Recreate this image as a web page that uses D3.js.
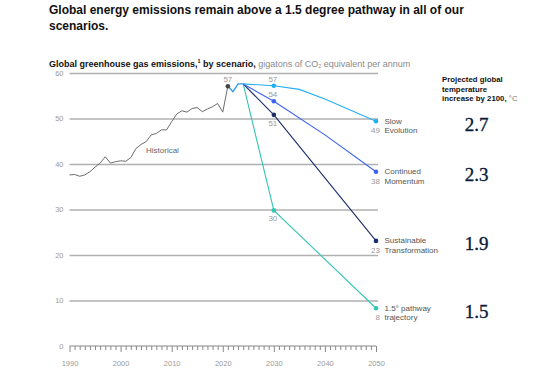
<!DOCTYPE html>
<html>
<head>
<meta charset="utf-8">
<script src="https://cdn.jsdelivr.net/npm/d3@7"></script>
<style>
  body { margin: 0; background: #fff; }
  svg { font-family: "Liberation Sans", Arial, sans-serif; display: block; }
</style>
</head>
<body>
<div id="chart"></div>
<script>
(function() {
  // historical emissions, Gt CO2e
  var histYears = [1990, 1991, 1992, 1993, 1994, 1995, 1996, 1997, 1998, 1999,
                   2000, 2001, 2002, 2003, 2004, 2005, 2006, 2007, 2008, 2009,
                   2010, 2011, 2012, 2013, 2014, 2015, 2016, 2017, 2018, 2019,
                   2020, 2021];
  var histValues = [37.6, 37.7, 37.3, 37.6, 38.3, 39.3, 40.2, 41.6, 40.2, 40.5,
                    40.7, 40.6, 41.4, 43.4, 44.3, 44.9, 46.4, 46.7, 47.5, 47.5,
                    49.3, 51.0, 51.7, 51.4, 52.2, 52.4, 51.5, 52.1, 52.6, 53.3,
                    51.4, 57.1];

  // shared short-term projection before the scenarios split
  var bridgeYears = [2021, 2022, 2023, 2024];
  var bridgeValues = [57.1, 55.9, 57.6, 57.6];

  var scenarioNames = [["Slow", "Evolution"], ["Continued", "Momentum"],
                       ["Sustainable", "Transformation"], ["1.5° pathway", "trajectory"]];
  var slowYears = [2024, 2030, 2035, 2040, 2050];
  var slowValues = [57.6, 57.2, 56.4, 54.3, 49.4];
  var momentumYears = [2024, 2030, 2040, 2050];
  var momentumValues = [57.6, 53.8, 46.4, 38.3];
  var sustainableYears = [2024, 2030, 2050];
  var sustainableValues = [57.6, 50.8, 23.1];
  var pathwayYears = [2024, 2030, 2050];
  var pathwayValues = [57.6, 29.8, 8.3];

  var labels2030 = ["57", "54", "51", "30"];
  var labels2050 = ["49", "38", "23", "8"];
  var temperatures = ["2.7", "2.3", "1.9", "1.5"];
  var yTicks = [0, 10, 20, 30, 40, 50, 60];
  var xTicks = [1990, 2000, 2010, 2020, 2030, 2040, 2050];

  var colors = ["#22b0f2", "#3b62f2", "#1b2d6b", "#34c6b4"];

  var width = 554, height = 375;

  var svg = d3.select("#chart").append("svg")
      .attr("width", width)
      .attr("height", height);

  var x = d3.scaleLinear().domain([1990, 2050]).range([69.5, 376]);
  var y = d3.scaleLinear().domain([0, 60]).range([346, 73]);

  // titles
  var title = svg.append("text")
      .attr("x", 49)
      .attr("y", 14)
      .style("font-size", "12px")
      .style("font-weight", "bold")
      .style("fill", "#111");
  title.append("tspan").attr("x", 49).text("Global energy emissions remain above a 1.5 degree pathway in all of our");
  title.append("tspan").attr("x", 49).attr("y", 30).text("scenarios.");

  var sub = svg.append("text")
      .attr("x", 49)
      .attr("y", 66.5)
      .style("font-size", "9px")
      .style("fill", "#111");
  sub.append("tspan").style("font-weight", "bold").text("Global greenhouse gas emissions,");
  sub.append("tspan").style("font-weight", "bold").style("font-size", "5.5px").attr("dy", -3.5).text("1");
  sub.append("tspan").style("font-weight", "bold").attr("dy", 3.5).text(" by scenario,");
  sub.append("tspan").style("fill", "#8a8a8a").text(" gigatons of CO");
  sub.append("tspan").style("fill", "#8a8a8a").style("font-size", "5.5px").attr("dy", 1.5).text("2");
  sub.append("tspan").style("fill", "#8a8a8a").attr("dy", -1.5).text(" equivalent per annum");

  // y axis with gridlines
  var yAxis = d3.axisLeft(y)
      .tickValues(yTicks)
      .tickSize(-308.5)
      .tickPadding(6);

  var yg = svg.append("g")
      .attr("class", "y axis")
      .attr("transform", "translate(" + x(1990) + ",0)")
      .call(yAxis);
  yg.select(".domain").remove();
  yg.selectAll(".tick line")
      .attr("stroke", "#b0b0b0")
      .attr("stroke-width", 1.5)
      .filter(function(d) { return d === 0; }).remove();
  yg.selectAll(".tick text")
      .style("font-size", "7.5px")
      .style("fill", "#9a9a9a")
      .style("font-family", "Liberation Sans, Arial, sans-serif");

  // x axis, yearly minor ticks
  var xAxis = d3.axisBottom(x)
      .tickValues(d3.range(1990, 2051))
      .tickSize(4)
      .tickFormat(function(d) { return xTicks.indexOf(d) > -1 ? d : ""; });

  var xg = svg.append("g")
      .attr("class", "x axis")
      .attr("transform", "translate(0," + y(0) + ")")
      .call(xAxis);
  xg.select(".domain")
      .attr("d", "M" + x(1990) + ",0H" + x(2050))
      .attr("stroke", "#888");
  xg.selectAll(".tick line")
      .attr("stroke", "#888")
      .attr("y2", function(d) { return xTicks.indexOf(d) > -1 ? 6 : 4; });
  xg.selectAll(".tick text")
      .attr("y", 15)
      .attr("dy", "0.71em")
      .style("font-size", "7.5px")
      .style("fill", "#9a9a9a")
      .style("font-family", "Liberation Sans, Arial, sans-serif");

  var line = d3.line()
      .x(function(d) { return x(d[0]); })
      .y(function(d) { return y(d[1]); });

  // historical
  svg.append("path")
      .datum(d3.zip(histYears, histValues))
      .attr("d", line)
      .attr("fill", "none")
      .attr("stroke", "#6c6c6c")
      .attr("stroke-width", 1);

  svg.append("text")
      .attr("x", 146)
      .attr("y", 153)
      .style("font-size", "8px")
      .style("fill", "#666")
      .text("Historical");

  // scenarios
  var scenarios = [
    d3.zip(slowYears, slowValues),
    d3.zip(momentumYears, momentumValues),
    d3.zip(sustainableYears, sustainableValues),
    d3.zip(pathwayYears, pathwayValues)
  ];

  for (var i = scenarios.length - 1; i >= 0; i--) {
    svg.append("path")
        .datum(scenarios[i])
        .attr("d", line)
        .attr("fill", "none")
        .attr("stroke", colors[i])
        .attr("stroke-width", 1.1);
  }

  svg.append("path")
      .datum(d3.zip(bridgeYears, bridgeValues))
      .attr("d", line)
      .attr("fill", "none")
      .attr("stroke", "#2a9af0")
      .attr("stroke-width", 1.3);

  // historical end dot
  var lastHist = histValues.length - 1;
  svg.append("circle")
      .attr("cx", x(histYears[lastHist]))
      .attr("cy", y(histValues[lastHist]))
      .attr("r", 2.3)
      .attr("fill", "#444");
  svg.append("text")
      .attr("x", x(histYears[lastHist]))
      .attr("y", y(histValues[lastHist]) - 4)
      .attr("text-anchor", "middle")
      .style("font-size", "8px")
      .style("fill", "#999")
      .text(Math.round(histValues[lastHist]));

  scenarios.forEach(function(s, i) {
    var p2030 = s.filter(function(d) { return d[0] === 2030; })[0];
    var p2050 = s[s.length - 1];

    svg.append("circle")
        .attr("cx", x(p2030[0]))
        .attr("cy", y(p2030[1]))
        .attr("r", 2.3)
        .attr("fill", colors[i]);

    svg.append("circle")
        .attr("cx", x(p2050[0]))
        .attr("cy", y(p2050[1]))
        .attr("r", 2.3)
        .attr("fill", colors[i]);

    // 2030 value: above for the top two, below for the rest
    svg.append("text")
        .attr("x", x(p2030[0]) - 1)
        .attr("y", i < 2 ? y(p2030[1]) - 4 : y(p2030[1]) + 11)
        .attr("text-anchor", "middle")
        .style("font-size", "8px")
        .style("fill", "#999")
        .text(labels2030[i]);

    // 2050 value and scenario name
    var ey = y(p2050[1]);
    svg.append("text")
        .attr("x", 380)
        .attr("y", ey + 12)
        .attr("text-anchor", "end")
        .style("font-size", "8px")
        .style("fill", "#999")
        .text(labels2050[i]);

    var nm = svg.append("text")
        .style("font-size", "8px")
        .style("fill", "#555");
    nm.append("tspan").attr("x", 384.5).attr("y", ey + 2.5).text(scenarioNames[i][0]);
    nm.append("tspan").attr("x", 384.5).attr("y", ey + 12).text(scenarioNames[i][1]);

    svg.append("text")
        .attr("x", 488.5)
        .attr("y", ey + 9.5)
        .attr("text-anchor", "end")
        .style("font-family", "Liberation Serif, Times New Roman, serif")
        .style("font-size", "19px")
        .style("fill", "#0a1c3a")
        .style("stroke", "#0a1c3a")
        .style("stroke-width", 0.35)
        .text(temperatures[i]);
  });

  // temperature column header
  var hdr = svg.append("text")
      .style("font-size", "7.8px")
      .style("font-weight", "bold")
      .style("fill", "#111");
  hdr.append("tspan").attr("x", 442).attr("y", 82).text("Projected global");
  hdr.append("tspan").attr("x", 442).attr("y", 91.5).text("temperature");
  hdr.append("tspan").attr("x", 442).attr("y", 101).text("increase by 2100,");
  hdr.append("tspan").style("font-weight", "normal").style("fill", "#777").text(" °C");

})();
</script>
</body>
</html>
